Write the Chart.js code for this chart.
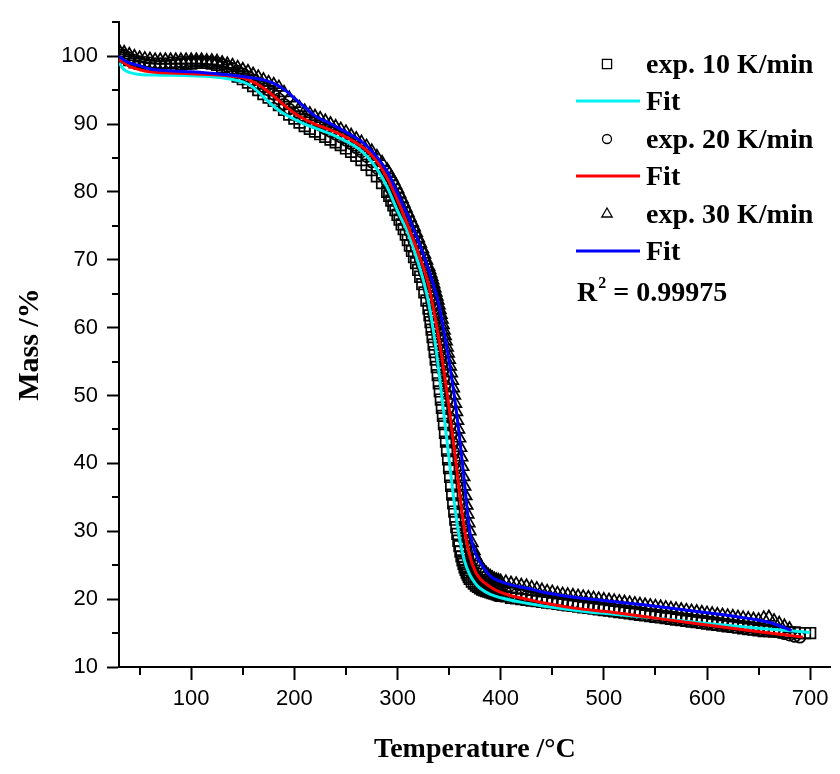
<!DOCTYPE html>
<html>
<head>
<meta charset="utf-8">
<script src="https://cdn.jsdelivr.net/npm/chart.js@4/dist/chart.umd.min.js"></script>
<style>
  body { margin: 0; background: #fff; }
  #wrap { width: 840px; height: 774px; }
</style>
</head>
<body>
<div id="wrap"><canvas id="tg" width="840" height="774"></canvas></div>
<script>
// temperature grid of the measured points (°C), denser where the mass drops fast
var expTemp = [
  30, 35, 40, 45, 50, 55, 60, 65, 70, 75, 80, 85,
  90, 95, 100, 105, 110, 115, 120, 125, 130, 135, 140, 145,
  150, 155, 160, 165, 170, 175, 180, 185, 190, 195, 200, 205,
  210, 215, 220, 225, 230, 235, 240, 245, 250, 255, 260, 265,
  270, 275, 280, 285, 290, 292, 294, 296, 298, 300,
  302, 304, 306, 308, 310, 312, 314, 316, 318, 320, 322, 324, 326, 328,
  330, 331, 332, 333, 334, 335, 336, 337, 338, 339, 340, 341, 342, 343, 344, 345, 346, 347, 348, 349,
  350, 351, 352, 353, 354, 355, 356, 357, 358, 359, 360, 361, 362, 363, 364, 365, 366, 367, 368, 369, 370,
  372, 374, 376, 378, 380, 382, 384, 386, 388, 390, 392, 394, 396, 398,
  400, 405, 410, 415, 420, 425, 430, 435, 440, 445, 450, 455,
  460, 465, 470, 475, 480, 485, 490, 495, 500, 505, 510, 515,
  520, 525, 530, 535, 540, 545, 550, 555, 560, 565, 570, 575,
  580, 585, 590, 595, 600, 605, 610, 615, 620, 625, 630, 635,
  640, 645, 650, 655, 660, 665, 670, 675, 680, 685, 690, 695, 700
];

// exp. 10 K/min (mass %)
var exp10Mass = [
  100.2, 99.8, 99.4, 99.1, 98.9, 98.7, 98.6, 98.5, 98.5, 98.5, 98.6, 98.7,
  98.8, 98.9, 98.9, 99.0, 99.0, 99.0, 98.9, 98.7, 98.4, 98.0, 97.5, 97.0,
  96.6, 96.1, 95.6, 95.0, 94.4, 93.9, 93.4, 92.8, 92.1, 91.4, 90.8, 90.2,
  89.7, 89.3, 88.9, 88.5, 88.1, 87.7, 87.3, 86.9, 86.4, 85.9, 85.3, 84.7,
  84.0, 83.2, 82.3, 81.3, 80.0, 79.4, 78.7, 78.0, 77.3, 76.6,
  75.9, 75.2, 74.5, 73.7, 72.9, 72.1, 71.3, 70.4, 69.5, 68.5, 67.5, 66.4, 65.2, 64.0,
  62.8, 61.8, 60.8, 59.7, 58.6, 57.5, 56.4, 55.3, 54.2, 53.0, 51.8, 50.6, 49.4, 48.2, 47.0, 45.8, 44.5, 43.2, 41.9, 40.6,
  39.3, 38.0, 36.7, 35.4, 34.1, 32.9, 31.7, 30.6, 29.6, 28.6, 27.8, 27.0, 26.3, 25.7, 25.2, 24.7, 24.3, 23.9, 23.6, 23.3, 23.0,
  22.6, 22.3, 22.0, 21.8, 21.6, 21.4, 21.3, 21.2, 21.1, 21.0, 20.9, 20.8, 20.7, 20.6,
  20.5, 20.4, 20.2, 20.1, 20.0, 19.9, 19.8, 19.7, 19.6, 19.5, 19.4, 19.3,
  19.2, 19.1, 19.0, 18.9, 18.8, 18.7, 18.6, 18.5, 18.4, 18.3, 18.2, 18.1,
  18.0, 17.9, 17.8, 17.7, 17.6, 17.5, 17.4, 17.3, 17.2, 17.1, 17.0, 16.9,
  16.8, 16.7, 16.6, 16.5, 16.4, 16.3, 16.2, 16.1, 16.0, 15.9, 15.8, 15.7,
  15.6, 15.5, 15.4, 15.3, 15.3, 15.2, 15.2, 15.1, 15.1, 15.1, 15.0, 15.0, 15.0
];

// exp. 20 K/min (mass %)
var exp20Mass = [
  100.5, 100.1, 99.7, 99.4, 99.2, 99.1, 99.0, 98.9, 98.9, 98.9, 99.0, 99.0,
  99.1, 99.1, 99.2, 99.2, 99.2, 99.2, 99.1, 99.0, 98.8, 98.5, 98.2, 97.8,
  97.4, 97.0, 96.5, 96.0, 95.5, 95.0, 94.4, 93.7, 92.9, 92.2, 91.6, 91.1,
  90.8, 90.5, 90.2, 89.8, 89.3, 88.9, 88.5, 88.1, 87.6, 87.1, 86.5, 85.9,
  85.2, 84.4, 83.5, 82.5, 81.4, 80.9, 80.4, 79.8, 79.2, 78.6,
  77.9, 77.2, 76.5, 75.8, 75.0, 74.2, 73.4, 72.6, 71.8, 70.9, 70.0, 69.1, 68.1, 67.1,
  66.1, 65.4, 64.6, 63.8, 63.0, 62.1, 61.3, 60.4, 59.5, 58.6, 57.6, 56.6, 55.6, 54.6, 53.6, 52.5, 51.4, 50.3, 49.2, 48.0,
  46.8, 45.6, 44.4, 43.1, 41.8, 40.5, 39.2, 37.9, 36.6, 35.3, 34.0, 32.8, 31.6, 30.5, 29.5, 28.6, 27.8, 27.0, 26.3, 25.7, 25.2,
  24.4, 23.8, 23.3, 22.9, 22.6, 22.3, 22.1, 21.9, 21.8, 21.7, 21.6, 21.5, 21.4, 21.3,
  21.2, 21.0, 20.9, 20.7, 20.6, 20.4, 20.3, 20.2, 20.0, 19.9, 19.8, 19.7,
  19.6, 19.5, 19.4, 19.2, 19.1, 19.0, 18.9, 18.8, 18.7, 18.6, 18.5, 18.4,
  18.3, 18.2, 18.1, 18.0, 17.9, 17.8, 17.7, 17.6, 17.5, 17.4, 17.3, 17.2,
  17.1, 17.0, 16.9, 16.8, 16.7, 16.6, 16.5, 16.4, 16.3, 16.2, 16.1, 16.0,
  15.9, 15.8, 15.7, 15.6, 15.5, 15.3, 15.1, 14.9, 14.7, 14.5, 14.4
];

// exp. 30 K/min (mass %)
var exp30Mass = [
  100.8, 100.5, 100.2, 99.9, 99.7, 99.6, 99.5, 99.4, 99.4, 99.4, 99.4, 99.4,
  99.4, 99.4, 99.4, 99.4, 99.4, 99.3, 99.3, 99.2, 99.0, 98.8, 98.6, 98.3,
  98.0, 97.7, 97.3, 96.9, 96.5, 96.1, 95.8, 95.4, 94.6, 93.8, 93.0, 92.4,
  91.9, 91.5, 91.1, 90.8, 90.4, 90.0, 89.6, 89.2, 88.8, 88.3, 87.8, 87.3,
  86.7, 86.0, 85.2, 84.3, 83.2, 82.7, 82.2, 81.6, 81.0, 80.4,
  79.7, 79.0, 78.3, 77.6, 76.9, 76.2, 75.5, 74.8, 74.0, 73.2, 72.4, 71.6, 70.8, 69.9,
  69.0, 68.5, 68.0, 67.5, 67.0, 66.4, 65.8, 65.2, 64.6, 64.0, 63.3, 62.6, 61.9, 61.2, 60.4, 59.6, 58.8, 58.0, 57.1, 56.2,
  55.3, 54.3, 53.3, 52.2, 51.1, 50.0, 48.8, 47.6, 46.3, 45.0, 43.7, 42.3, 40.9, 39.5, 38.0, 36.6, 35.2, 33.8, 32.5, 31.2, 30.0,
  28.3, 27.1, 26.2, 25.5, 25.0, 24.5, 24.1, 23.8, 23.5, 23.3, 23.1, 22.9, 22.8, 22.7,
  22.6, 22.5, 22.3, 22.2, 22.0, 21.9, 21.7, 21.5, 21.3, 21.1, 21.0, 20.8,
  20.7, 20.6, 20.5, 20.4, 20.3, 20.2, 20.1, 20.0, 19.9, 19.8, 19.7, 19.6,
  19.5, 19.4, 19.3, 19.2, 19.1, 19.0, 18.9, 18.8, 18.7, 18.6, 18.5, 18.4,
  18.3, 18.2, 18.1, 18.0, 17.9, 17.8, 17.7, 17.6, 17.5, 17.4, 17.3, 17.2,
  17.1, 17.0, 16.9, 17.2, 17.3, 16.8, 16.4, 16.0, 15.6
];

// model fits
var fit10Temp = [30, 35, 40, 50, 70, 100, 130, 150, 160, 170, 180, 190, 200, 210, 220, 240, 260, 270, 280, 290,
  300, 310, 320, 325, 330, 335, 340, 345, 350, 355, 360, 365, 370, 375, 380, 390, 400, 425, 450, 475, 500, 550, 600, 650, 700];
var fit10Mass = [99.0, 98.0, 97.6, 97.3, 97.2, 97.1, 96.8, 96.2, 95.4, 94.0, 92.6, 91.5, 90.7, 90.0, 89.4, 88.2, 86.6, 85.3, 83.4, 80.7,
  77.2, 74.0, 69.6, 67.0, 63.8, 59.3, 53.6, 47.2, 40.6, 34.2, 29.0, 25.6, 23.6, 22.4, 21.6, 20.7, 20.2, 19.4, 18.8, 18.3, 17.9, 17.2, 16.4, 15.7, 15.1];

var fit20Temp = [30, 35, 40, 50, 60, 100, 130, 150, 160, 170, 180, 190, 200, 210, 220, 240, 260, 270, 280, 290,
  300, 310, 320, 330, 335, 340, 345, 350, 355, 360, 365, 370, 375, 380, 390, 400, 425, 450, 475, 500, 550, 600, 650, 693];
var fit20Mass = [99.5, 99.0, 98.5, 98.0, 97.7, 97.4, 97.2, 96.8, 96.2, 95.3, 94.1, 92.8, 91.6, 90.7, 90.0, 88.8, 87.2, 86.1, 84.5, 82.0,
  78.8, 75.0, 71.0, 66.3, 62.6, 58.4, 53.6, 48.2, 42.2, 35.8, 30.2, 26.4, 24.2, 23.0, 21.8, 21.0, 20.0, 19.2, 18.6, 18.2, 17.2, 16.2, 15.2, 14.4];

var fit30Temp = [30, 35, 40, 50, 60, 100, 150, 170, 180, 190, 200, 210, 220, 233, 250, 270, 290, 300, 310, 320,
  330, 340, 345, 350, 355, 360, 365, 370, 375, 381, 390, 400, 410, 426, 445, 475, 500, 542, 600, 638, 660, 682];
var fit30Mass = [100.0, 99.4, 99.0, 98.6, 98.1, 97.7, 97.0, 96.5, 96.0, 95.1, 93.8, 92.5, 91.2, 90.2, 88.8, 86.8, 83.0, 79.8, 76.5, 72.8,
  68.6, 63.4, 59.5, 55.0, 50.0, 44.0, 37.0, 30.0, 27.0, 25.2, 23.4, 22.6, 22.1, 21.6, 20.9, 20.2, 19.8, 19.1, 18.0, 17.2, 16.6, 15.4];

var seriesLabels = ["exp. 10 K/min", "Fit", "exp. 20 K/min", "Fit", "exp. 30 K/min", "Fit"];
var rSquared = "0.99975";
var majorX = [100, 200, 300, 400, 500, 600, 700];
var minorX = [50, 150, 250, 350, 450, 550, 650];
var majorY = [10, 20, 30, 40, 50, 60, 70, 80, 90, 100];
var minorY = [15, 25, 35, 45, 55, 65, 75, 85, 95, 105];

const toPoints = (temps, masses) => masses.map((m, i) => ({ x: temps[i], y: m }));

const serif = '"Liberation Serif", "Times New Roman", serif';
const sans = '"Liberation Sans", Arial, sans-serif';

// markers dataset
const expSet = (label, data, style, radius, order) => ({
  label: label,
  data: data,
  showLine: false,
  pointStyle: style,
  pointRadius: radius,
  pointBorderWidth: 1.7,
  pointBorderColor: "#000",
  pointBackgroundColor: "rgba(0,0,0,0)",
  order: order,
});

// fitted line dataset
const fitSet = (data, color, order) => ({
  label: "Fit",
  data: data,
  showLine: true,
  borderColor: color,
  borderWidth: 3,
  pointRadius: 0,
  cubicInterpolationMode: "monotone",
  order: order,
});

// minor ticks and the legend block
const extras = {
  id: "extras",
  afterDraw(chart) {
    const ctx = chart.ctx;
    const xs = chart.scales.x, ys = chart.scales.y;
    const area = chart.chartArea;
    ctx.save();
    ctx.strokeStyle = "#000";
    ctx.lineWidth = 2;
    minorX.forEach((v) => {
      var px = Math.round(xs.getPixelForValue(v));
      ctx.beginPath(); ctx.moveTo(px, area.bottom); ctx.lineTo(px, area.bottom + 8); ctx.stroke();
    });
    minorY.forEach((v) => {
      var py = Math.round(ys.getPixelForValue(v));
      ctx.beginPath(); ctx.moveTo(area.left - 7, py); ctx.lineTo(area.left, py); ctx.stroke();
    });

    // legend
    var rowY = [64, 101, 139, 176, 214, 251];
    ctx.font = "bold 28px " + serif;
    ctx.textBaseline = "middle";
    ctx.textAlign = "left";
    chart.data.datasets.forEach((ds, i) => {
      var y = rowY[i];
      if (ds.showLine) {
        ctx.strokeStyle = ds.borderColor;
        ctx.lineWidth = 3;
        ctx.beginPath(); ctx.moveTo(576, y); ctx.lineTo(640, y); ctx.stroke();
      } else {
        ctx.strokeStyle = "#000";
        ctx.fillStyle = "#fff";
        ctx.lineWidth = 1.3;
        Chart.helpers.drawPoint(ctx, { pointStyle: ds.pointStyle, radius: ds.pointRadius - 1, borderWidth: 1.3, rotation: 0 }, 607, y);
      }
      ctx.fillStyle = "#000";
      ctx.fillText(seriesLabels[i], 646, y + 2);
    });
    // R^2 line
    var ry = 294;
    ctx.fillText("R", 577, ry);
    var w = ctx.measureText("R").width;
    ctx.font = "bold 16px " + serif;
    ctx.fillText("2", 577 + w + 1, ry - 10);
    var w2 = ctx.measureText("2").width;
    ctx.font = "bold 28px " + serif;
    ctx.fillText(" = " + rSquared, 577 + w + w2 + 1, ry);
    ctx.restore();
  },
};

new Chart(document.getElementById("tg"), {
  type: "scatter",
  data: {
    datasets: [
      expSet(seriesLabels[0], toPoints(expTemp, exp10Mass), "rect", 7.5, 12),
      fitSet(toPoints(fit10Temp, fit10Mass), "#00f0f0", 2),
      expSet(seriesLabels[2], toPoints(expTemp, exp20Mass), "circle", 5.5, 11),
      fitSet(toPoints(fit20Temp, fit20Mass), "#ff0000", 1),
      expSet(seriesLabels[4], toPoints(expTemp, exp30Mass), "triangle", 7, 10),
      fitSet(toPoints(fit30Temp, fit30Mass), "#0000ff", 0),
    ],
  },
  options: {
    responsive: false,
    animation: false,
    layout: { padding: { top: 20, right: 6, left: 0, bottom: 0 } },
    plugins: { legend: { display: false }, tooltip: { enabled: false } },
    scales: {
      x: {
        type: "linear",
        min: 30,
        max: 720,
        afterFit: (s) => { s.height = 107; },
        afterBuildTicks: (s) => { s.ticks = majorX.map((v) => ({ value: v })); },
        border: { color: "#000", width: 2 },
        grid: { drawOnChartArea: false, tickLength: 13, tickWidth: 2, tickColor: "#000" },
        ticks: { color: "#000", padding: 6, maxRotation: 0, autoSkip: false, font: { family: sans, size: 22 } },
        title: { display: true, text: "Temperature /°C", color: "#000", padding: { bottom: 7 }, font: { family: serif, size: 28, weight: "bold" } },
      },
      y: {
        min: 10,
        max: 105,
        afterFit: (s) => { s.width = 119; },
        afterBuildTicks: (s) => { s.ticks = majorY.map((v) => ({ value: v })); },
        border: { color: "#000", width: 2 },
        grid: { drawOnChartArea: false, tickLength: 12, tickWidth: 2, tickColor: "#000" },
        ticks: { color: "#000", padding: 9, autoSkip: false, font: { family: sans, size: 22 } },
        title: { display: true, text: "Mass /%", color: "#000", padding: { top: 12 }, font: { family: serif, size: 30, weight: "bold" } },
      },
    },
  },
  plugins: [extras],
});
</script>
</body>
</html>
